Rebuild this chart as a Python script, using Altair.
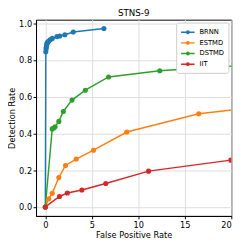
import altair as alt
import pandas as pd

methods = ["BRNN", "ESTMD", "DSTMD", "IIT"]
colors = ["#1f77b4", "#ff7f0e", "#2ca02c", "#d62728"]

brnn_x = [0, 0.05, 0.08, 0.1, 0.13, 0.17, 0.22, 0.3, 0.4, 0.55, 0.75, 1.25, 1.55, 2.1, 3.0, 6.3]
brnn_y = [0, 0.845, 0.86, 0.87, 0.88, 0.89, 0.895, 0.90, 0.905, 0.912, 0.918, 0.928, 0.931, 0.938, 0.953, 0.972]

estmd_x = [0, 0.37, 0.74, 1.45, 2.17, 3.32, 5.18, 8.76, 16.5, 25.0]
estmd_y = [0, 0.045, 0.074, 0.16, 0.226, 0.261, 0.309, 0.408, 0.508, 0.556]

dstmd_x = [0, 0.74, 0.9, 1.05, 1.45, 1.93, 2.87, 4.3, 6.8, 12.3, 26.0]
dstmd_y = [0, 0.425, 0.43, 0.437, 0.466, 0.52, 0.582, 0.636, 0.708, 0.742, 0.787]

iit_x = [0, 1.52, 2.37, 3.93, 6.5, 11.1, 19.95]
iit_y = [0, 0.057, 0.076, 0.092, 0.128, 0.195, 0.255]

rows = []
for m, xs, ys in zip(methods, [brnn_x, estmd_x, dstmd_x, iit_x], [brnn_y, estmd_y, dstmd_y, iit_y]):
    for i, (a, b) in enumerate(zip(xs, ys)):
        rows.append({"method": m, "fpr": a, "dr": b, "i": i})
df = pd.DataFrame(rows)

font = "DejaVu Sans"

x = alt.X("fpr:Q", scale=alt.Scale(domain=[-1, 20], nice=False, zero=False),
          axis=alt.Axis(values=[0, 5, 10, 15, 20], title="False Positive Rate"))
y = alt.Y("dr:Q", scale=alt.Scale(domain=[-0.049, 1.02], nice=False, zero=False),
          axis=alt.Axis(values=[0, 0.2, 0.4, 0.6, 0.8, 1.0], format=".1f", title="Detection Rate"))
color = alt.Color("method:N", scale=alt.Scale(domain=methods, range=colors),
                  legend=alt.Legend(title=None, orient="top-right", offset=3,
                                    symbolType="M-1.4,0L1.4,0M0.25,0A0.25,0.25,0,1,1,-0.25,0A0.25,0.25,0,1,1,0.25,0Z",
                                    symbolSize=100, symbolStrokeWidth=1.5, symbolOffset=2,
                                    labelFontSize=7, labelFont=font, rowPadding=0, labelOffset=6,
                                    padding=4, strokeColor="#cccccc", cornerRadius=2,
                                    fillColor="white"))

lines = alt.Chart(df).mark_line(strokeWidth=1.5, clip=True).encode(
    x=x, y=y, color=color, order="i:Q")
points = alt.Chart(df).mark_circle(size=28, opacity=1, clip=True).encode(
    x=x, y=y, color=alt.Color("method:N", scale=alt.Scale(domain=methods, range=colors), legend=None))

chart = alt.layer(lines, points).properties(
    width=202, height=203,
    title=alt.TitleParams("STNS-9", fontSize=9, font=font, fontWeight="normal", offset=2),
    autosize=alt.AutoSizeParams(type="none"),
    padding={"left": 29, "top": 8, "right": 10, "bottom": 27},
).configure_axis(
    labelFont=font, titleFont=font, labelFontSize=8.5, titleFontSize=8.5,
    titleFontWeight="normal", labelColor="black", titleColor="black",
    domainColor="black", tickColor="black", tickSize=3, gridColor="#dddddd",
    titlePadding=2, labelPadding=1.5,
).configure_view(stroke="black", strokeWidth=1)

chart.save("out.html", embed_options={"renderer": "svg", "actions": False})
